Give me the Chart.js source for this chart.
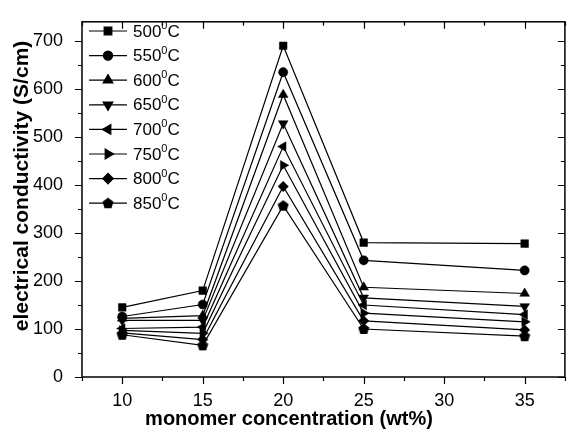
<!DOCTYPE html>
<html>
<head>
<meta charset="utf-8">
<script src="https://cdn.jsdelivr.net/npm/chart.js@4.4.0/dist/chart.umd.min.js"></script>
<style>
    body { margin: 0; background: #fff; }
    #wrap { width: 571px; height: 429px; }
</style>
</head>
<body>
<div id="wrap"><canvas id="myChart" width="571" height="429"></canvas></div>
<script>
// concentrazioni di monomero (wt%)
const concentration = [10, 15, 20, 25, 35];

const temperatures = ['500', '550', '600', '650', '700', '750', '800', '850'];

// conducibilità (S/cm) per ogni temperatura
const cond500 = [145, 180, 690, 280, 278];
const cond550 = [126, 151, 635, 243, 222];
const cond600 = [122, 128, 588, 187, 174];
const cond650 = [118, 118, 528, 165, 147];
const cond700 = [101, 104, 480, 150, 130];
const cond750 = [97, 91, 441, 133, 115];
const cond800 = [92, 78, 397, 117, 98];
const cond850 = [88, 66, 357, 100, 85];

const xTicks = [10, 15, 20, 25, 30, 35];
const yTicks = [0, 100, 200, 300, 400, 500, 600, 700];

const allValues = [cond500, cond550, cond600, cond650, cond700, cond750, cond800, cond850];

// pentagono per 850 gradi (non esiste in Chart.js)
function makePentagon() {
    const c = document.createElement('canvas');
    c.width = 12;
    c.height = 12;
    const g = c.getContext('2d');
    g.fillStyle = '#000';
    g.beginPath();
    for (let i = 0; i < 5; i++) {
        const a = -Math.PI / 2 + i * 2 * Math.PI / 5;
        const px = 6 + Math.cos(a) * 5.8;
        const py = 6.4 + Math.sin(a) * 5.8;
        if (i === 0) g.moveTo(px, py); else g.lineTo(px, py);
    }
    g.closePath();
    g.fill();
    return c;
}

const styles = ['rect', 'circle', 'triangle', 'triangle', 'triangle', 'triangle', 'rectRot', makePentagon()];
const rotations = [0, 0, 0, 180, 270, 90, 0, 0];
const radii = [5.4, 4.6, 5.6, 5.6, 5.6, 5.6, 5.2, 5];

const datasets = allValues.map((vals, i) => ({
    label: temperatures[i],
    data: vals.map((v, j) => ({ x: concentration[j], y: v })),
    borderColor: '#000',
    backgroundColor: '#000',
    borderWidth: 1.2,
    pointStyle: styles[i],
    pointRotation: rotations[i],
    pointRadius: radii[i],
    pointBorderWidth: 0.5,
    pointBorderColor: '#000',
    pointBackgroundColor: '#000',
    tension: 0
}));

const FONT = '"Liberation Sans", Arial, sans-serif';

// cornice, tacche, legenda e titoli degli assi
const decorations = {
    id: 'decorations',
    afterDatasetsDraw(chart) {
        const ctx = chart.ctx;
        const area = chart.chartArea;
        const xs = chart.scales.x;
        const ys = chart.scales.y;
        ctx.save();
        ctx.strokeStyle = '#000';
        ctx.lineWidth = 1.5;
        ctx.strokeRect(area.left, area.top, area.right - area.left, area.bottom - area.top);

        ctx.lineWidth = 1.2;
        ctx.beginPath();
        for (let v = 7.5; v <= 37.5; v += 2.5) {
            const px = Math.round(xs.getPixelForValue(v)) + 0.5;
            const len = (v % 5 === 0) ? 7 : 4;
            ctx.moveTo(px, area.bottom);
            ctx.lineTo(px, area.bottom + len);
            ctx.moveTo(px, area.top);
            ctx.lineTo(px, area.top + len);
        }
        for (let v = 0; v <= 700; v += 50) {
            const py = Math.round(ys.getPixelForValue(v)) + 0.5;
            const len = (v % 100 === 0) ? 7 : 4;
            ctx.moveTo(area.left, py);
            ctx.lineTo(area.left - len, py);
            ctx.moveTo(area.right, py);
            ctx.lineTo(area.right - len, py);
        }
        ctx.stroke();

        // legenda con linea + simbolo
        chart.data.datasets.forEach((ds, i) => {
            const y = 31 + i * 24.6;
            ctx.strokeStyle = '#000';
            ctx.lineWidth = 1.2;
            ctx.beginPath();
            ctx.moveTo(89, y);
            ctx.lineTo(127, y);
            ctx.stroke();
            ctx.fillStyle = '#000';
            Chart.helpers.drawPoint(ctx, {
                pointStyle: ds.pointStyle,
                rotation: ds.pointRotation,
                radius: ds.pointRadius,
                borderWidth: 0.5
            }, 108, y);

            ctx.textBaseline = 'middle';
            ctx.textAlign = 'left';
            ctx.font = '17px ' + FONT;
            ctx.fillText(ds.label, 133, y + 1);
            let w = ctx.measureText(ds.label).width;
            ctx.font = '11px ' + FONT;
            ctx.fillText('0', 133 + w, y - 5);
            const w0 = ctx.measureText('0').width;
            ctx.font = '17px ' + FONT;
            ctx.fillText('C', 133 + w + w0, y + 1);
        });

        // titoli
        ctx.font = 'bold 20px ' + FONT;
        ctx.textAlign = 'center';
        ctx.textBaseline = 'middle';
        ctx.fillText('monomer concentration (wt%)', 289, 419);
        ctx.translate(22, 186);
        ctx.rotate(-Math.PI / 2);
        ctx.font = 'bold 21px ' + FONT;
        ctx.fillText('electrical conductivity (S/cm)', 0, 0);
        ctx.restore();
    }
};

const ctx = document.getElementById('myChart');
new Chart(ctx, {
    type: 'line',
    data: { datasets },
    options: {
        responsive: false,
        animation: false,
        layout: { padding: { top: 15, right: 1, left: 0, bottom: 0 } },
        plugins: {
            legend: { display: false },
            tooltip: { enabled: false }
        },
        scales: {
            x: {
                type: 'linear',
                min: 7.5,
                max: 37.5,
                grid: { display: false },
                border: { display: false },
                afterFit: (s) => { s.height = 52; },
                afterBuildTicks: (s) => { s.ticks = xTicks.map(v => ({ value: v })); },
                ticks: {
                    padding: 5,
                    color: '#000',
                    font: { family: FONT, size: 18 }
                }
            },
            y: {
                min: 0,
                max: 740,
                grid: { display: false },
                border: { display: false },
                afterFit: (s) => { s.width = 82; },
                afterBuildTicks: (s) => { s.ticks = yTicks.map(v => ({ value: v })); },
                ticks: {
                    padding: 11,
                    color: '#000',
                    font: { family: FONT, size: 18 }
                }
            }
        }
    },
    plugins: [decorations]
});
</script>
</body>
</html>
